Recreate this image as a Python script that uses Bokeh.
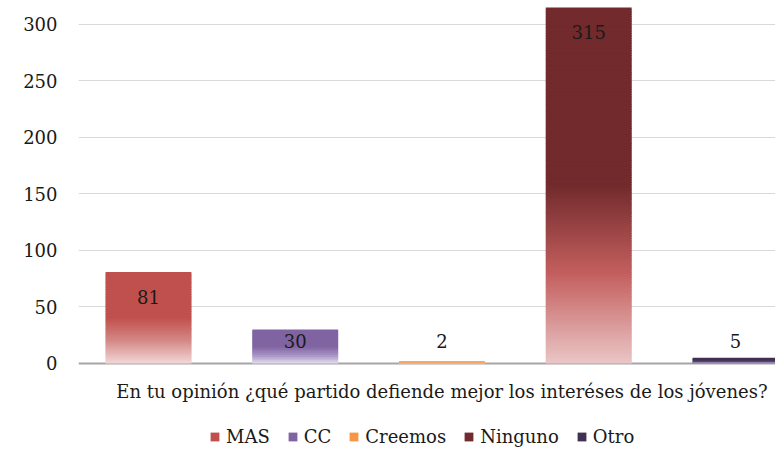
import numpy as np
from bokeh.plotting import figure
from bokeh.models import (Range1d, FixedTicker, ColumnDataSource, Legend,
                          LegendItem, Label, Span)
from bokeh.core.properties import value
from bokeh.embed import file_html
from bokeh.resources import INLINE

# ---- data ----
categories = ["MAS", "CC", "Creemos", "Ninguno", "Otro"]
counts = [81, 30, 2, 315, 5]
dark_colors = ["#C0504D", "#8064A2", "#F79646", "#722A2C", "#403152"]
mid_colors = ["#D48886", "#A590C2", "#F9B47E", "#C4605F", "#6E5F8E"]
light_colors = ["#F2D8D7", "#E4DDEE", "#FDE4D0", "#EAC6C6", "#B3A2C7"]
y_ticks = [0, 50, 100, 150, 200, 250, 300]
axis_title = "En tu opinión ¿qué partido defiende mejor los interéses de los jóvenes?"

FONT = "DejaVu Serif"
TEXT_COLOR = "#1a1a1a"


def hex_to_rgb(h):
    h = h.lstrip("#")
    return np.array([int(h[i:i + 2], 16) for i in (0, 2, 4)], dtype=float)


def grad_color(t, c0, c1, c2):
    # t = 0 at bar top, 1 at bar bottom
    a, b, c = hex_to_rgb(c0), hex_to_rgb(c1), hex_to_rgb(c2)
    if t <= 0.5:
        rgb = a
    elif t <= 0.75:
        s = (t - 0.5) / 0.25
        rgb = a + (b - a) * s
    else:
        s = (t - 0.75) / 0.25
        rgb = b + (c - b) * s
    return "#%02x%02x%02x" % tuple(int(round(v)) for v in rgb)


p = figure(width=775, height=450, output_backend="svg", toolbar_location=None,
           x_range=Range1d(-0.477, 4.273), y_range=Range1d(-77, 321.2),
           min_border_left=78, min_border_right=0, min_border_top=0,
           min_border_bottom=0)
p.outline_line_color = None
p.background_fill_color = "white"
p.border_fill_color = "white"
p.xaxis.visible = False

p.xgrid.grid_line_color = None
p.ygrid.grid_line_color = "#D9D9D9"
p.ygrid.grid_line_width = 1
p.ygrid.ticker = FixedTicker(ticks=y_ticks)

p.add_layout(Span(location=0, dimension="width", line_color="#A6A6A6",
                  line_width=2, level="underlay"))

# gradient bars drawn as thin overlapping slices
bar_w = 0.585
renderers = []
for i, (cat, v) in enumerate(zip(categories, counts)):
    N = max(4, int(round(v / 1.5)))
    tops, bottoms, cols = [], [], []
    h = v / N
    for k in range(N):
        tops.append(v * (1 - k / N))
        bottoms.append(max(v * (1 - (k + 1) / N) - 0.6 * h, 0))
        cols.append(grad_color((k + 0.5) / N, dark_colors[i], mid_colors[i], light_colors[i]))
    src = ColumnDataSource(dict(left=[i - bar_w / 2] * N, right=[i + bar_w / 2] * N,
                                top=tops, bottom=bottoms, color=cols))
    r = p.quad(left="left", right="right", top="top", bottom="bottom", source=src,
               fill_color="color", line_color=None)
    renderers.append(r)

# data labels
lab_y = [max(v - 22, 19.5) for v in counts]
lab_src = ColumnDataSource(dict(x=list(range(len(categories))), y=lab_y,
                                t=[str(v) for v in counts]))
p.text(x="x", y="y", text="t", source=lab_src, text_align="center",
       text_baseline="middle", text_font=value(FONT), text_font_size="18px",
       text_color=TEXT_COLOR)

# y axis
p.yaxis.ticker = FixedTicker(ticks=y_ticks)
p.yaxis.axis_line_color = None
p.yaxis.major_tick_line_color = None
p.yaxis.minor_tick_line_color = None
p.yaxis.major_label_text_font = FONT
p.yaxis.major_label_text_font_size = "18px"
p.yaxis.major_label_text_color = TEXT_COLOR
p.yaxis.major_label_standoff = 15

# category-axis title
p.add_layout(Label(x=2, y=-24.8, text=axis_title, text_align="center",
                   text_baseline="middle", text_font=FONT,
                   text_font_size="18px", text_color=TEXT_COLOR))

items = [LegendItem(label=c, renderers=[r], index=0) for c, r in zip(categories, renderers)]
legend = Legend(items=items, orientation="horizontal", location=(131, 3),
                glyph_width=11, glyph_height=11, label_standoff=6, spacing=17,
                padding=0, margin=0, border_line_alpha=0, background_fill_alpha=0,
                label_text_font=FONT, label_text_font_size="18px",
                label_text_color=TEXT_COLOR, label_height=20)
p.add_layout(legend)

open("out.html", "w").write(file_html(p, INLINE))
